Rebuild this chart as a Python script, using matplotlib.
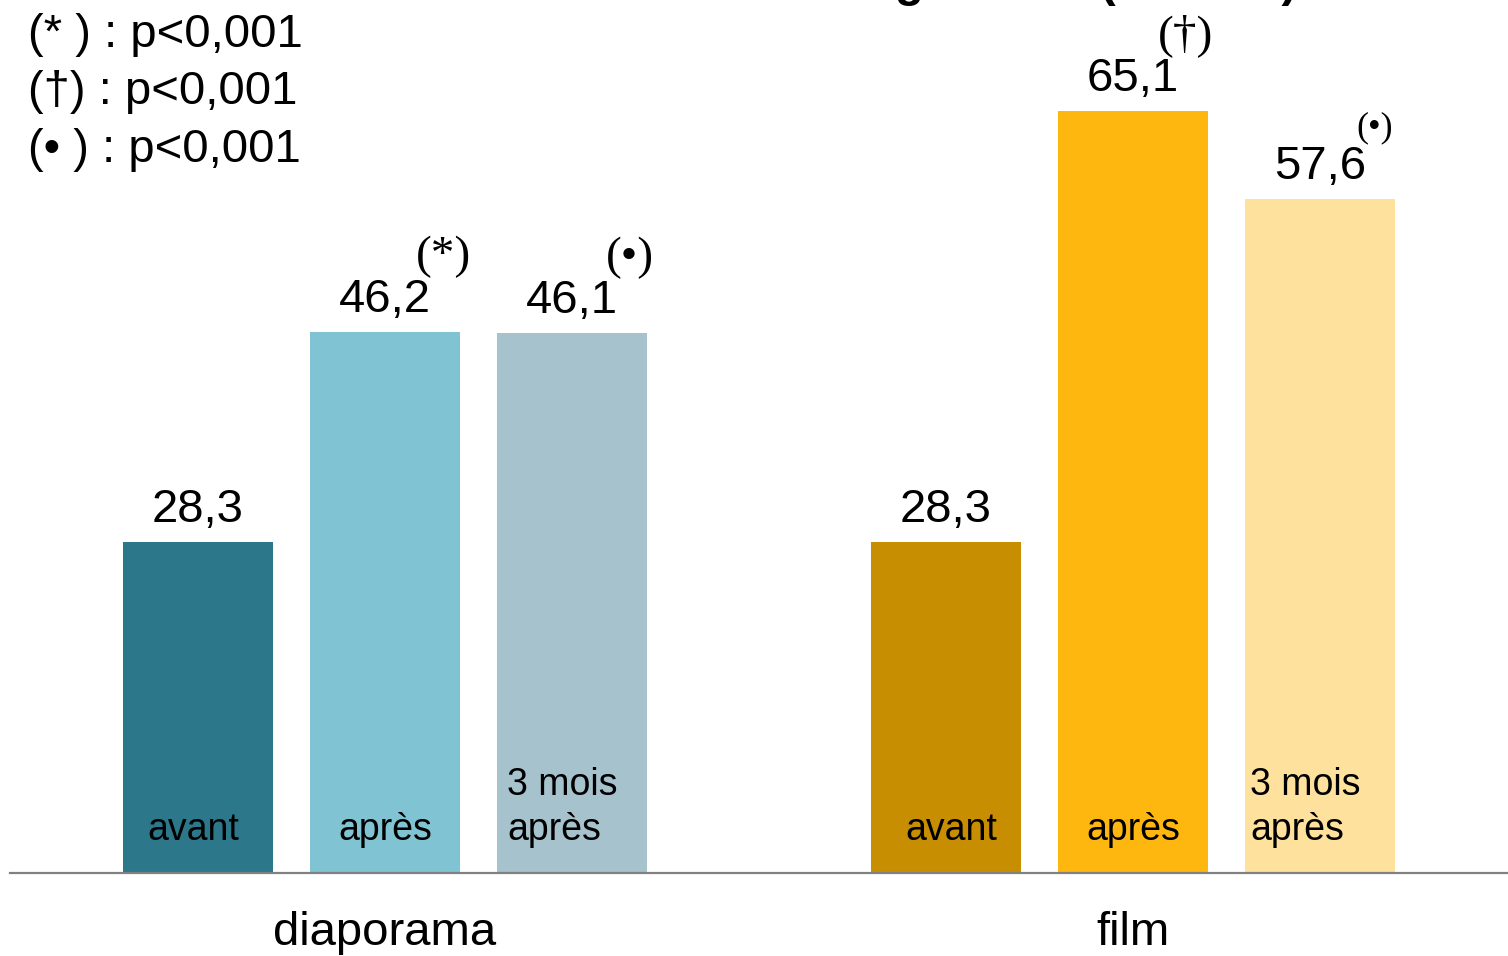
import matplotlib.pyplot as plt
import matplotlib

matplotlib.rcParams['font.family'] = ['Liberation Sans', 'DejaVu Sans']

# data
groupes = ['diaporama', 'film']
moments = ['avant', 'après', '3 mois\naprès']
scores_diapo = [28.3, 46.2, 46.1]
scores_film = [28.3, 65.1, 57.6]
etoiles_diapo = ['', '(*)', '(•)']
etoiles_film = ['', '(†)', '(•)']
legende = ['(* ) : p<0,001', '(†) : p<0,001', '(• ) : p<0,001']

couleurs_diapo = ['#2C778A', '#80C3D3', '#A6C2CD']
couleurs_film = ['#C68E00', '#FDB70E', '#FEE19C']

W, H = 1508, 956
px = 11.71  # pixels par point de score
pas = 187.0  # pixels entre deux barres

fig = plt.figure(figsize=(W / 100, H / 100), dpi=100)
ax = fig.add_axes([10 / W, 83 / H, 1498 / W, 873 / H])
ax.set_ylim(0, 873 / px)
ax.set_xlim((10 - 198) / pas, (1508 - 198) / pas)
ax.axis('off')
ax.axhline(0, color='#808080', lw=1.6, clip_on=False)

larg = 150 / pas
decal = [[-5, 0], [5, 0]]  # decalage des etiquettes internes (pixels)
for g, (scores, couls, etoiles) in enumerate([(scores_diapo, couleurs_diapo, etoiles_diapo),
                                               (scores_film, couleurs_film, etoiles_film)]):
    xs = [4 * g + i for i in range(3)]
    ax.bar(xs, scores, width=larg, color=couls, linewidth=0)
    for i, (x, v) in enumerate(zip(xs, scores)):
        lab = f'{v:.1f}'.replace('.', ',')
        ax.text(x, v + 20 / px, lab, ha='center', va='baseline', fontsize=34)
        if etoiles[i]:
            dx = [0, 31, 34][i] if g == 0 else [0, 25, 36][i]
            taille = 34 if not (g == 1 and i == 2) else 26
            ax.text(x + dx / pas, v + 54 / px, etoiles[i], ha='left', va='bottom',
                    fontsize=taille, family=['Liberation Serif', 'DejaVu Serif'])
        m = moments[i]
        if '\n' in m:
            l1, l2 = m.split('\n')
            x0 = x - larg / 2 + (10 if g == 0 else 5) / pas
            ax.text(x0, (873 - 795) / px, l1, ha='left', va='baseline', fontsize=27)
            ax.text(x0, (873 - 840) / px, l2, ha='left', va='baseline', fontsize=27)
        else:
            ax.text(x + decal[g][i] / pas, (873 - 840) / px, m,
                    ha='center', va='baseline', fontsize=27)
    ax.text(xs[1], -(945 - 873) / px, groupes[g], ha='center', va='baseline',
            fontsize=34, clip_on=False)

for k, t in enumerate(legende):
    fig.text(28 / W, 1 - (47 + 57.5 * k) / H, t, ha='left', va='baseline', fontsize=34)

# titre coupé en haut de l'image
fig.text(1297 / W, 1 - 6 / H, 'Connaissances globales (sur 100)', ha='right', va='bottom',
         fontsize=34, fontweight='bold')

fig.savefig('out.png', dpi=100)
